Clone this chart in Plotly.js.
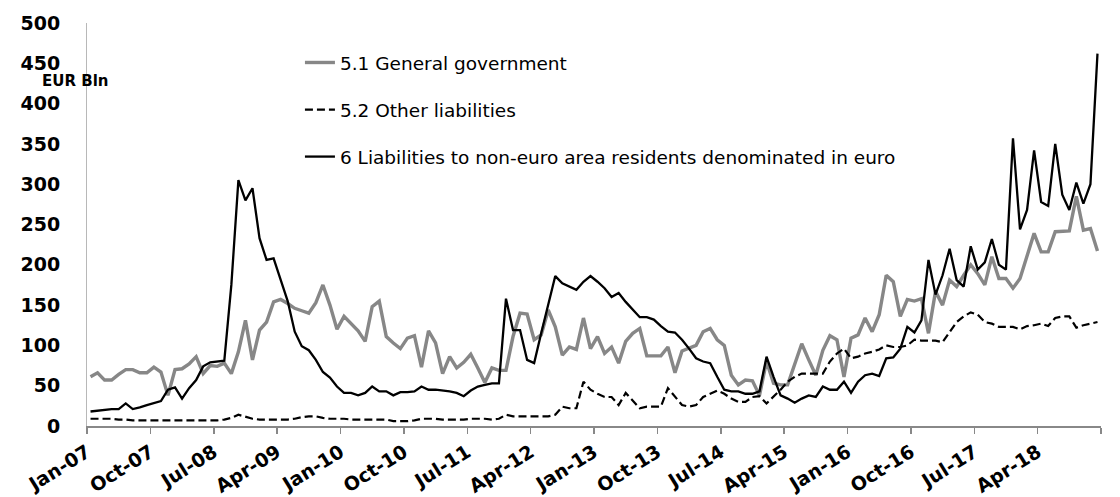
<!DOCTYPE html>
<html>
<head>
<meta charset="utf-8">
<script src="https://cdn.plot.ly/plotly-3.0.1.min.js"></script>
<style>
  html, body { margin: 0; padding: 0; background: #ffffff; }
  #chart { width: 1120px; height: 497px; }
</style>
</head>
<body>
<div id="chart"></div>
<script>
// Monthly observations, Jan-07 .. Dec-18 (EUR Bln)
const generalGovernment = [
  61,66,57,57,64,70,70,66,66,73,67,38,70,71,77,86,65,75,74,78,65,92,131,82,119,129,154,157,152,
  146,143,140,153,175,150,120,136,127,118,105,148,155,111,103,96,109,112,73,118,103,65,86,72,79,89,72,54,72,
  69,69,111,140,139,107,113,144,123,88,98,95,134,96,111,90,98,78,105,115,121,87,87,87,98,66,93,96,100,
  117,121,107,100,63,51,57,56,38,80,53,51,51,78,102,82,63,94,112,107,61,109,113,134,117,138,187,179,136,
  157,155,158,115,167,150,181,173,187,200,189,175,210,183,183,171,183,210,239,216,216,241,241,242,285,243,245,217
];
const otherLiabilities = [
  9,9,9,9,8,8,7,7,7,7,7,7,7,7,7,7,7,7,7,8,10,14,11,9,8,8,8,8,8,
  9,11,12,12,10,9,9,9,8,8,8,8,8,8,6,6,6,7,9,9,9,8,8,8,8,9,9,9,8,
  9,14,12,12,12,12,12,12,14,24,22,22,55,45,40,36,36,26,41,32,22,24,24,24,47,36,26,24,26,36,
  40,44,40,34,30,30,36,37,28,36,45,55,61,65,65,65,65,80,90,96,84,86,90,92,95,100,98,98,100,
  107,106,106,106,104,117,129,136,141,138,129,127,123,123,123,120,124,125,127,124,134,136,136,122,125,127,129,123
];
const nonEuroLiabilities = [
  18,19,20,21,21,28,21,23,26,29,31,45,48,34,47,57,74,79,80,81,175,305,280,295,233,206,208,181,155,
  117,99,94,82,67,60,49,41,41,38,41,49,43,43,38,42,42,43,49,45,45,44,43,41,37,44,49,51,53,
  53,158,119,119,82,78,115,150,186,177,173,169,179,186,179,171,160,165,154,144,135,135,132,124,117,116,107,96,84,
  80,78,61,45,43,43,40,40,43,86,61,38,34,29,34,38,36,49,45,45,55,41,55,63,65,62,84,85,96,
  123,116,131,206,163,187,220,181,173,223,194,203,232,200,194,357,244,268,342,278,273,350,287,268,302,276,300,462
];
const seriesNames = [
  "5.1 General government",
  "5.2 Other liabilities",
  "6 Liabilities to non-euro area residents denominated in euro"
];
const tickLabels = ["Jan-07","Oct-07","Jul-08","Apr-09","Jan-10","Oct-10","Jul-11","Apr-12",
                    "Jan-13","Oct-13","Jul-14","Apr-15","Jan-16","Oct-16","Jul-17","Apr-18",""];
const yTicks = [0,50,100,150,200,250,300,350,400,450,500];
const unitLabel = "EUR Bln";

const idx = generalGovernment.map((_, i) => i);
const tickVals = tickLabels.map((_, j) => j * 9 - 0.5);

const traces = [
  { x: idx, y: generalGovernment, name: seriesNames[0], type: "scatter", mode: "lines",
    legendgroup: "a", line: { color: "#878787", width: 3.4 } },
  { x: idx, y: otherLiabilities, name: seriesNames[1], type: "scatter", mode: "lines",
    legendgroup: "b", line: { color: "#000000", width: 2.2, dash: "8px,4px" } },
  { x: idx, y: nonEuroLiabilities, name: seriesNames[2], type: "scatter", mode: "lines",
    legendgroup: "c", line: { color: "#000000", width: 2.3 } }
];

const layout = {
  width: 1120, height: 497,
  margin: { l: 87, r: 19, t: 23, b: 71, pad: 0 },
  paper_bgcolor: "#ffffff", plot_bgcolor: "#ffffff",
  showlegend: true,
  legend: {
    x: 0.21, y: 0.948, xanchor: "left", yanchor: "top",
    bgcolor: "rgba(0,0,0,0)", borderwidth: 0,
    font: { family: "DejaVu Sans", size: 18.5, color: "#000000" },
    tracegroupgap: 20, traceorder: "grouped"
  },
  xaxis: {
    range: [-0.5, 143.5],
    showgrid: false, zeroline: false,
    showline: true, linecolor: "#888888", linewidth: 2,
    ticks: "outside", ticklen: 6, tickwidth: 1.5, tickcolor: "#888888",
    tickmode: "array", tickvals: tickVals, ticktext: tickLabels,
    tickangle: -32,
    tickfont: { family: "DejaVu Sans", size: 19, color: "#000000", weight: "bold" }
  },
  yaxis: {
    range: [0, 500],
    showgrid: false, zeroline: false,
    showline: true, linecolor: "#b8b8b8", linewidth: 1,
    ticks: "", tickmode: "array", tickvals: yTicks,
    ticklabelstandoff: 22,
    tickfont: { family: "DejaVu Sans", size: 19, color: "#000000", weight: "bold" }
  },
  annotations: [
    { text: unitLabel, xref: "paper", yref: "paper", x: -0.012, y: 0.855,
      xanchor: "center", yanchor: "middle", showarrow: false,
      font: { family: "DejaVu Sans", size: 15, color: "#000000", weight: "bold" } }
  ]
};

Plotly.newPlot("chart", traces, layout, { displayModeBar: false, staticPlot: true });
</script>
</body>
</html>
